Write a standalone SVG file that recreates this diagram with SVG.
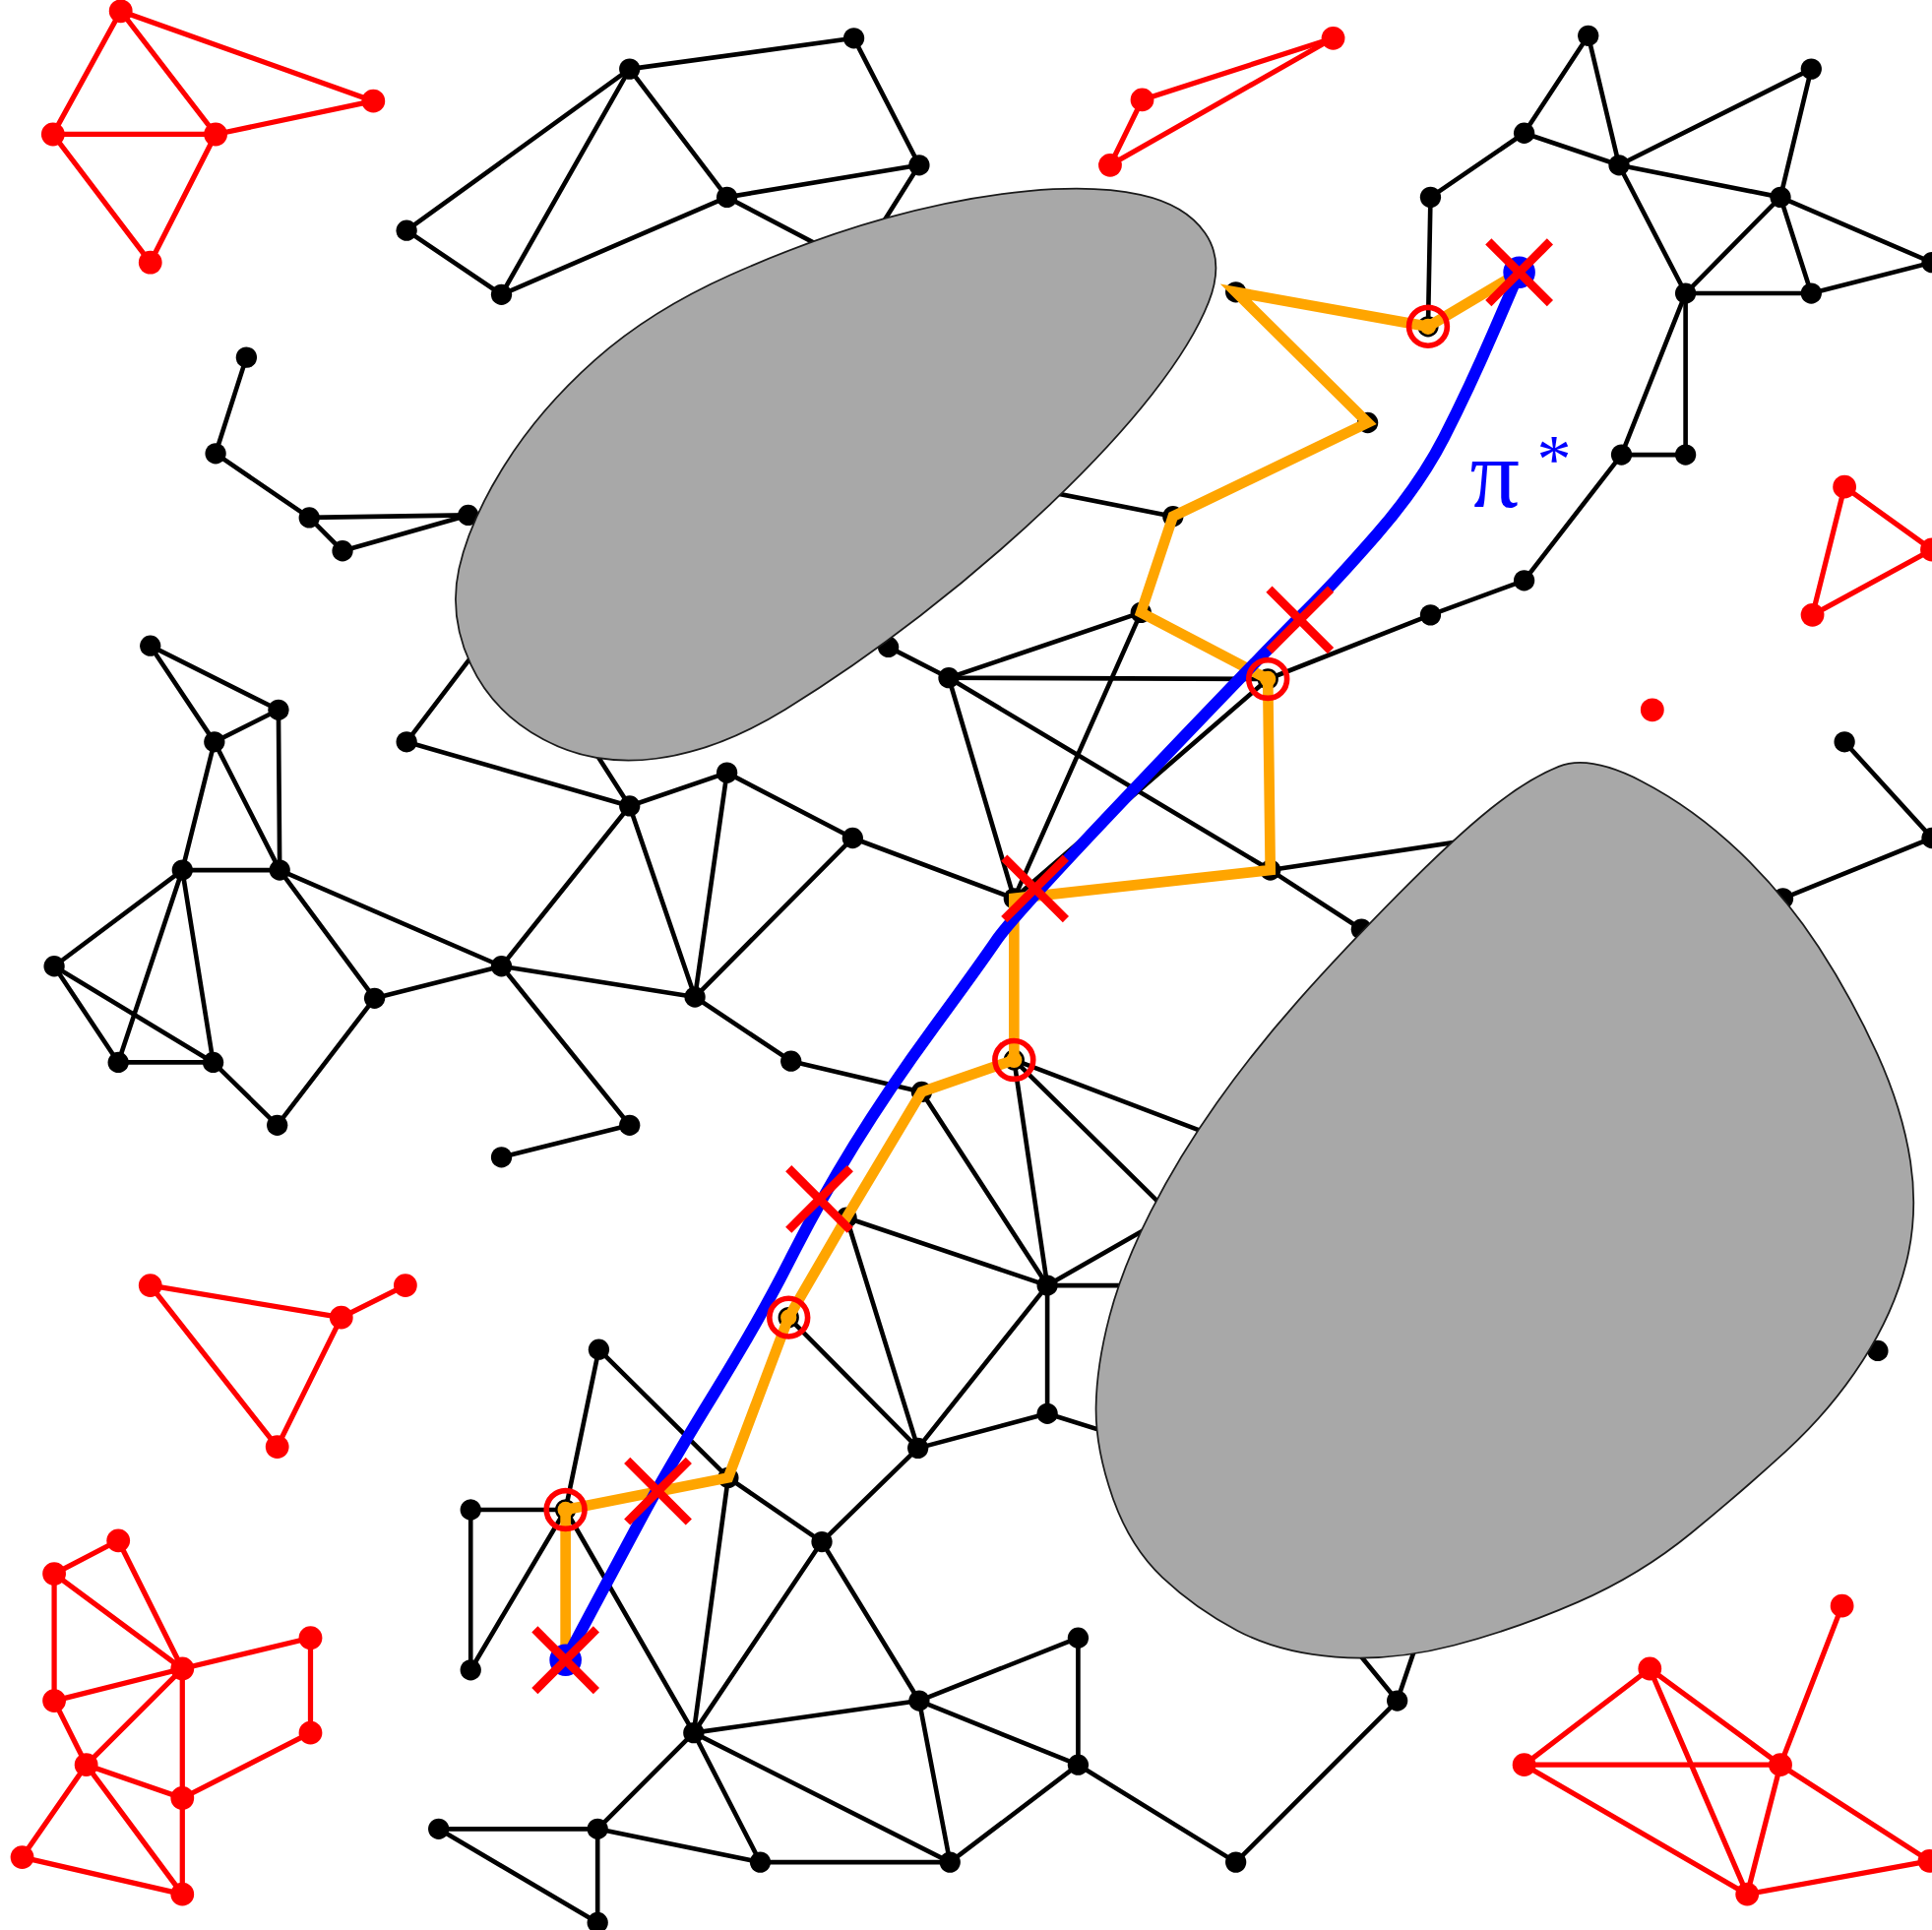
<svg xmlns="http://www.w3.org/2000/svg" xmlns:xlink="http://www.w3.org/1999/xlink" width="1963" height="1961" viewBox="0 0 1963 1961">
<style>
.e line{stroke:#000;stroke-width:3.7;stroke-linecap:round}
.re line{stroke:#f00;stroke-width:4.2;stroke-linecap:round}
.n{fill:#000}
.rn{fill:#f00}
.obs{fill:#a8a8a8;stroke:#1a1a1a;stroke-width:1.4}
.ring{fill:none;stroke:#f00;stroke-width:4.5}
.od{fill:#ffa500}
.lbl{font-family:"Liberation Serif","DejaVu Serif",serif;fill:#0000ff}
</style>
<defs>
<g id="xm"><line x1="-25" y1="-25" x2="25" y2="25" stroke="#f00" stroke-width="7"/><line x1="-25" y1="25" x2="25" y2="-25" stroke="#f00" stroke-width="7"/></g>
</defs>
<rect width="1963" height="1961" fill="#fff"/>
<g transform="scale(1.25191,1.25223)">
<g id="connectors">
<g class="e">
<line x1="511" y1="56" x2="693" y2="31"/><line x1="693" y1="31" x2="746" y2="134"/><line x1="746" y1="134" x2="590" y2="160"/><line x1="590" y1="160" x2="511" y2="56"/><line x1="511" y1="56" x2="330" y2="187"/><line x1="511" y1="56" x2="407" y2="239"/><line x1="330" y1="187" x2="407" y2="239"/><line x1="407" y1="239" x2="590" y2="160"/><line x1="590" y1="160" x2="695" y2="215"/><line x1="746" y1="134" x2="695" y2="215"/>
<line x1="200" y1="290" x2="175" y2="368"/><line x1="175" y1="368" x2="251" y2="420"/><line x1="251" y1="420" x2="278" y2="447"/><line x1="251" y1="420" x2="380" y2="418"/><line x1="278" y1="447" x2="380" y2="418"/>
<line x1="122" y1="524" x2="226" y2="576"/><line x1="122" y1="524" x2="174" y2="602"/><line x1="226" y1="576" x2="174" y2="602"/><line x1="226" y1="576" x2="227" y2="706"/><line x1="174" y1="602" x2="227" y2="706"/><line x1="174" y1="602" x2="148" y2="706"/><line x1="227" y1="706" x2="148" y2="706"/><line x1="148" y1="706" x2="44" y2="784"/><line x1="148" y1="706" x2="96" y2="862"/><line x1="148" y1="706" x2="173" y2="862"/><line x1="44" y1="784" x2="96" y2="862"/><line x1="44" y1="784" x2="173" y2="862"/><line x1="96" y1="862" x2="173" y2="862"/><line x1="173" y1="862" x2="225" y2="913"/><line x1="225" y1="913" x2="304" y2="810"/><line x1="227" y1="706" x2="304" y2="810"/><line x1="227" y1="706" x2="407" y2="784"/><line x1="304" y1="810" x2="407" y2="784"/>
<line x1="407" y1="784" x2="511" y2="654"/><line x1="407" y1="784" x2="564" y2="809"/><line x1="407" y1="784" x2="511" y2="913"/><line x1="511" y1="913" x2="407" y2="939"/><line x1="330" y1="602" x2="511" y2="654"/><line x1="330" y1="602" x2="400" y2="510"/><line x1="511" y1="654" x2="470" y2="590"/><line x1="511" y1="654" x2="590" y2="627"/><line x1="511" y1="654" x2="564" y2="809"/><line x1="590" y1="627" x2="692" y2="680"/><line x1="590" y1="627" x2="564" y2="809"/><line x1="692" y1="680" x2="564" y2="809"/><line x1="692" y1="680" x2="823" y2="729"/><line x1="564" y1="809" x2="642" y2="861"/><line x1="642" y1="861" x2="748" y2="886"/>
<line x1="721" y1="525" x2="770" y2="550"/><line x1="770" y1="550" x2="926" y2="497"/><line x1="770" y1="550" x2="1029" y2="551"/><line x1="770" y1="550" x2="823" y2="729"/><line x1="770" y1="550" x2="1031" y2="706"/><line x1="926" y1="497" x2="823" y2="729"/><line x1="1029" y1="551" x2="823" y2="729"/><line x1="1029" y1="551" x2="1161" y2="499"/><line x1="1031" y1="706" x2="1105" y2="754"/><line x1="1031" y1="706" x2="1230" y2="676"/><line x1="952" y1="419" x2="820" y2="393"/>
<line x1="823" y1="860" x2="850" y2="1043"/><line x1="823" y1="860" x2="1010" y2="931"/><line x1="823" y1="860" x2="960" y2="995"/><line x1="748" y1="886" x2="850" y2="1043"/><line x1="687" y1="988" x2="850" y2="1043"/><line x1="850" y1="1043" x2="960" y2="980"/><line x1="850" y1="1043" x2="950" y2="1043"/><line x1="850" y1="1043" x2="850" y2="1147"/><line x1="850" y1="1043" x2="745" y2="1175"/><line x1="687" y1="988" x2="745" y2="1175"/><line x1="640" y1="1069" x2="745" y2="1175"/><line x1="850" y1="1147" x2="745" y2="1175"/><line x1="850" y1="1147" x2="930" y2="1172"/>
<line x1="591" y1="1199" x2="667" y2="1251"/><line x1="591" y1="1199" x2="563" y2="1406"/><line x1="591" y1="1199" x2="486" y2="1095"/><line x1="486" y1="1095" x2="459" y2="1225"/><line x1="459" y1="1225" x2="382" y2="1225"/><line x1="382" y1="1225" x2="382" y2="1355"/><line x1="382" y1="1355" x2="459" y2="1225"/><line x1="459" y1="1225" x2="563" y2="1406"/><line x1="745" y1="1175" x2="667" y2="1251"/><line x1="667" y1="1251" x2="563" y2="1406"/><line x1="667" y1="1251" x2="746" y2="1380"/><line x1="563" y1="1406" x2="746" y2="1380"/><line x1="746" y1="1380" x2="875" y2="1329"/><line x1="746" y1="1380" x2="875" y2="1432"/><line x1="875" y1="1329" x2="875" y2="1432"/><line x1="563" y1="1406" x2="771" y2="1511"/><line x1="563" y1="1406" x2="617" y2="1511"/><line x1="746" y1="1380" x2="771" y2="1511"/><line x1="875" y1="1432" x2="771" y2="1511"/><line x1="617" y1="1511" x2="771" y2="1511"/><line x1="563" y1="1406" x2="485" y2="1484"/><line x1="485" y1="1484" x2="617" y2="1511"/><line x1="485" y1="1484" x2="356" y2="1484"/><line x1="356" y1="1484" x2="485" y2="1560"/><line x1="485" y1="1484" x2="485" y2="1560"/><line x1="875" y1="1432" x2="1003" y2="1511"/><line x1="1003" y1="1511" x2="1134" y2="1380"/><line x1="1134" y1="1380" x2="1085" y2="1320"/><line x1="1134" y1="1380" x2="1155" y2="1318"/>
<line x1="1161" y1="160" x2="1237" y2="108"/><line x1="1237" y1="108" x2="1289" y2="29"/><line x1="1289" y1="29" x2="1314" y2="134"/><line x1="1237" y1="108" x2="1314" y2="134"/><line x1="1314" y1="134" x2="1470" y2="56"/><line x1="1314" y1="134" x2="1445" y2="160"/><line x1="1470" y1="56" x2="1445" y2="160"/><line x1="1314" y1="134" x2="1368" y2="238"/><line x1="1445" y1="160" x2="1368" y2="238"/><line x1="1445" y1="160" x2="1470" y2="238"/><line x1="1445" y1="160" x2="1568" y2="213"/><line x1="1368" y1="238" x2="1470" y2="238"/><line x1="1470" y1="238" x2="1568" y2="213"/><line x1="1368" y1="238" x2="1316" y2="369"/><line x1="1368" y1="238" x2="1368" y2="369"/><line x1="1316" y1="369" x2="1368" y2="369"/><line x1="1161" y1="160" x2="1159" y2="265"/><line x1="1316" y1="369" x2="1237" y2="471"/><line x1="1237" y1="471" x2="1161" y2="499"/><line x1="1497" y1="602" x2="1568" y2="680"/><line x1="1568" y1="680" x2="1447" y2="729"/>
</g>
<g class="re">
<line x1="98" y1="9" x2="43" y2="109"/><line x1="98" y1="9" x2="175" y2="109"/><line x1="98" y1="9" x2="303" y2="82"/><line x1="43" y1="109" x2="175" y2="109"/><line x1="175" y1="109" x2="303" y2="82"/><line x1="43" y1="109" x2="122" y2="213"/><line x1="175" y1="109" x2="122" y2="213"/>
<line x1="1082" y1="31" x2="927" y2="81"/><line x1="1082" y1="31" x2="901" y2="134"/><line x1="927" y1="81" x2="901" y2="134"/>
<line x1="1497" y1="395" x2="1471" y2="499"/><line x1="1471" y1="499" x2="1568" y2="446"/><line x1="1497" y1="395" x2="1568" y2="446"/>
<line x1="122" y1="1043" x2="277" y2="1069"/><line x1="122" y1="1043" x2="225" y2="1174"/><line x1="277" y1="1069" x2="329" y2="1043"/><line x1="277" y1="1069" x2="225" y2="1174"/>
<line x1="96" y1="1250" x2="44" y2="1277"/><line x1="96" y1="1250" x2="148" y2="1354"/><line x1="44" y1="1277" x2="148" y2="1354"/><line x1="44" y1="1277" x2="44" y2="1380"/><line x1="148" y1="1354" x2="252" y2="1329"/><line x1="148" y1="1354" x2="44" y2="1380"/><line x1="148" y1="1354" x2="70" y2="1432"/><line x1="148" y1="1354" x2="148" y2="1459"/><line x1="252" y1="1329" x2="252" y2="1406"/><line x1="252" y1="1406" x2="148" y2="1459"/><line x1="44" y1="1380" x2="70" y2="1432"/><line x1="70" y1="1432" x2="148" y2="1459"/><line x1="70" y1="1432" x2="18" y2="1507"/><line x1="70" y1="1432" x2="148" y2="1537"/><line x1="148" y1="1459" x2="148" y2="1537"/><line x1="18" y1="1507" x2="148" y2="1537"/>
<line x1="1339" y1="1354" x2="1237" y2="1432"/><line x1="1339" y1="1354" x2="1445" y2="1432"/><line x1="1339" y1="1354" x2="1418" y2="1537"/><line x1="1237" y1="1432" x2="1445" y2="1432"/><line x1="1237" y1="1432" x2="1418" y2="1537"/><line x1="1445" y1="1432" x2="1495" y2="1303"/><line x1="1445" y1="1432" x2="1418" y2="1537"/><line x1="1445" y1="1432" x2="1566" y2="1510"/><line x1="1418" y1="1537" x2="1566" y2="1510"/>
</g>
</g>
<g id="nodes">
<g id="a1"><circle class="n" cx="511" cy="56" r="8.5"/></g><g id="a2"><circle class="n" cx="693" cy="31" r="8.5"/></g><g id="a3"><circle class="n" cx="746" cy="134" r="8.5"/></g><g id="a4"><circle class="n" cx="590" cy="160" r="8.5"/></g><g id="a5"><circle class="n" cx="330" cy="187" r="8.5"/></g><g id="a6"><circle class="n" cx="407" cy="239" r="8.5"/></g>
<g id="b1"><circle class="n" cx="200" cy="290" r="8.5"/></g><g id="b2"><circle class="n" cx="175" cy="368" r="8.5"/></g><g id="b3"><circle class="n" cx="251" cy="420" r="8.5"/></g><g id="b4"><circle class="n" cx="278" cy="447" r="8.5"/></g><g id="b5"><circle class="n" cx="380" cy="418" r="8.5"/></g>
<g id="c1"><circle class="n" cx="122" cy="524" r="8.5"/></g><g id="c2"><circle class="n" cx="226" cy="576" r="8.5"/></g><g id="c3"><circle class="n" cx="174" cy="602" r="8.5"/></g><g id="c4"><circle class="n" cx="227" cy="706" r="8.5"/></g><g id="c5"><circle class="n" cx="148" cy="706" r="8.5"/></g><g id="c6"><circle class="n" cx="44" cy="784" r="8.5"/></g><g id="c7"><circle class="n" cx="96" cy="862" r="8.5"/></g><g id="c8"><circle class="n" cx="173" cy="862" r="8.5"/></g><g id="c9"><circle class="n" cx="225" cy="913" r="8.5"/></g><g id="c10"><circle class="n" cx="304" cy="810" r="8.5"/></g><g id="c11"><circle class="n" cx="407" cy="784" r="8.5"/></g><g id="c12"><circle class="n" cx="330" cy="602" r="8.5"/></g>
<g id="d1"><circle class="n" cx="511" cy="654" r="8.5"/></g><g id="d2"><circle class="n" cx="590" cy="627" r="8.5"/></g><g id="d3"><circle class="n" cx="692" cy="680" r="8.5"/></g><g id="d5"><circle class="n" cx="564" cy="809" r="8.5"/></g><g id="d6"><circle class="n" cx="511" cy="913" r="8.5"/></g><g id="d7"><circle class="n" cx="407" cy="939" r="8.5"/></g><g id="d8"><circle class="n" cx="642" cy="861" r="8.5"/></g>
<g id="m1"><circle class="n" cx="823" cy="729" r="8.5"/></g><g id="m2"><circle class="n" cx="770" cy="550" r="8.5"/></g><g id="m3"><circle class="n" cx="721" cy="525" r="8.5"/></g><g id="m4"><circle class="n" cx="926" cy="497" r="8.5"/></g><g id="m5"><circle class="n" cx="1029" cy="551" r="8.5"/></g><g id="m6"><circle class="n" cx="1031" cy="706" r="8.5"/></g><g id="m7"><circle class="n" cx="823" cy="860" r="8.5"/></g><g id="m8"><circle class="n" cx="748" cy="886" r="8.5"/></g><g id="m9"><circle class="n" cx="687" cy="988" r="8.5"/></g><g id="m10"><circle class="n" cx="850" cy="1043" r="8.5"/></g><g id="m11"><circle class="n" cx="640" cy="1069" r="8.5"/></g><g id="m12"><circle class="n" cx="745" cy="1175" r="8.5"/></g><g id="m13"><circle class="n" cx="850" cy="1147" r="8.5"/></g><g id="m14"><circle class="n" cx="591" cy="1199" r="8.5"/></g><g id="m15"><circle class="n" cx="459" cy="1225" r="8.5"/></g><g id="m16"><circle class="n" cx="382" cy="1225" r="8.5"/></g><g id="m17"><circle class="n" cx="382" cy="1355" r="8.5"/></g><g id="m18"><circle class="n" cx="459" cy="1347" r="8.5"/></g><g id="m19"><circle class="n" cx="486" cy="1095" r="8.5"/></g><g id="m20"><circle class="n" cx="667" cy="1251" r="8.5"/></g><g id="m21"><circle class="n" cx="563" cy="1406" r="8.5"/></g><g id="m22"><circle class="n" cx="746" cy="1380" r="8.5"/></g><g id="m23"><circle class="n" cx="875" cy="1329" r="8.5"/></g><g id="m24"><circle class="n" cx="875" cy="1432" r="8.5"/></g><g id="m25"><circle class="n" cx="771" cy="1511" r="8.5"/></g><g id="m26"><circle class="n" cx="617" cy="1511" r="8.5"/></g><g id="m27"><circle class="n" cx="485" cy="1484" r="8.5"/></g><g id="m28"><circle class="n" cx="356" cy="1484" r="8.5"/></g><g id="m29"><circle class="n" cx="485" cy="1560" r="8.5"/></g><g id="m30"><circle class="n" cx="1003" cy="1511" r="8.5"/></g><g id="m31"><circle class="n" cx="1134" cy="1380" r="8.5"/></g>
<g id="e1"><circle class="n" cx="1105" cy="754" r="8.5"/></g><g id="e2"><circle class="n" cx="1447" cy="729" r="8.5"/></g><g id="e3"><circle class="n" cx="1524" cy="1096" r="8.5"/></g>
<g id="o1"><circle class="n" cx="952" cy="419" r="8.5"/></g><g id="o2"><circle class="n" cx="1110" cy="343" r="8.5"/></g><g id="o3"><circle class="n" cx="1003" cy="237" r="8.5"/></g><g id="o4"><circle class="n" cx="1159" cy="265" r="8.5"/></g>
<g id="t1"><circle class="n" cx="1161" cy="160" r="8.5"/></g><g id="t2"><circle class="n" cx="1237" cy="108" r="8.5"/></g><g id="t3"><circle class="n" cx="1289" cy="29" r="8.5"/></g><g id="t4"><circle class="n" cx="1314" cy="134" r="8.5"/></g><g id="t5"><circle class="n" cx="1470" cy="56" r="8.5"/></g><g id="t6"><circle class="n" cx="1445" cy="160" r="8.5"/></g><g id="t7"><circle class="n" cx="1368" cy="238" r="8.5"/></g><g id="t8"><circle class="n" cx="1470" cy="238" r="8.5"/></g><g id="t9"><circle class="n" cx="1568" cy="213" r="8.5"/></g><g id="t10"><circle class="n" cx="1316" cy="369" r="8.5"/></g><g id="t11"><circle class="n" cx="1368" cy="369" r="8.5"/></g><g id="t12"><circle class="n" cx="1237" cy="471" r="8.5"/></g><g id="t13"><circle class="n" cx="1161" cy="499" r="8.5"/></g>
<g id="k1"><circle class="n" cx="1497" cy="602" r="8.5"/></g><g id="k2"><circle class="n" cx="1568" cy="680" r="8.5"/></g>
<g id="r1"><circle class="rn" cx="98" cy="9" r="9.5"/></g><g id="r2"><circle class="rn" cx="43" cy="109" r="9.5"/></g><g id="r3"><circle class="rn" cx="175" cy="109" r="9.5"/></g><g id="r4"><circle class="rn" cx="122" cy="213" r="9.5"/></g><g id="r5"><circle class="rn" cx="303" cy="82" r="9.5"/></g>
<g id="s1"><circle class="rn" cx="1082" cy="31" r="9.5"/></g><g id="s2"><circle class="rn" cx="927" cy="81" r="9.5"/></g><g id="s3"><circle class="rn" cx="901" cy="134" r="9.5"/></g>
<g id="u1"><circle class="rn" cx="1497" cy="395" r="9.5"/></g><g id="u2"><circle class="rn" cx="1471" cy="499" r="9.5"/></g><g id="u3"><circle class="rn" cx="1568" cy="446" r="9.5"/></g><g id="u4"><circle class="rn" cx="1341" cy="576" r="9.5"/></g>
<g id="v1"><circle class="rn" cx="122" cy="1043" r="9.5"/></g><g id="v2"><circle class="rn" cx="329" cy="1043" r="9.5"/></g><g id="v3"><circle class="rn" cx="277" cy="1069" r="9.5"/></g><g id="v4"><circle class="rn" cx="225" cy="1174" r="9.5"/></g>
<g id="w1"><circle class="rn" cx="96" cy="1250" r="9.5"/></g><g id="w2"><circle class="rn" cx="44" cy="1277" r="9.5"/></g><g id="w3"><circle class="rn" cx="148" cy="1354" r="9.5"/></g><g id="w4"><circle class="rn" cx="252" cy="1329" r="9.5"/></g><g id="w5"><circle class="rn" cx="44" cy="1380" r="9.5"/></g><g id="w6"><circle class="rn" cx="252" cy="1406" r="9.5"/></g><g id="w7"><circle class="rn" cx="70" cy="1432" r="9.5"/></g><g id="w8"><circle class="rn" cx="148" cy="1459" r="9.5"/></g><g id="w9"><circle class="rn" cx="18" cy="1507" r="9.5"/></g><g id="w10"><circle class="rn" cx="148" cy="1537" r="9.5"/></g>
<g id="x1"><circle class="rn" cx="1339" cy="1354" r="9.5"/></g><g id="x2"><circle class="rn" cx="1237" cy="1432" r="9.5"/></g><g id="x3"><circle class="rn" cx="1445" cy="1432" r="9.5"/></g><g id="x4"><circle class="rn" cx="1495" cy="1303" r="9.5"/></g><g id="x5"><circle class="rn" cx="1418" cy="1537" r="9.5"/></g><g id="x6"><circle class="rn" cx="1566" cy="1510" r="9.5"/></g>
</g>
<g id="obstacles">
<path class="obs" d="M834.5,155 Q889,150 925.5,158 Q962,166 978,189 Q994,212 981,245 Q968,278 935,320 Q902,362 852,409.5 Q802,457 747,499.5 Q692,542 637.5,575.5 Q583,609 532.5,615.5 Q482,622 441,600 Q400,578 382,539 Q364,500 372.5,461.5 Q381,423 409.5,377.5 Q438,332 483,292 Q528,252 593,223 Q658,194 719,177 Q780,160 834.5,155 Z"/>
<path class="obs" d="M1265,622 Q1290,612 1332.5,634 Q1375,656 1412,691.5 Q1449,727 1476,768.5 Q1503,810 1523.5,855 Q1544,900 1550.5,942.5 Q1557,985 1547,1025 Q1537,1065 1511.5,1104.5 Q1486,1144 1450,1177 Q1414,1210 1372.5,1244 Q1331,1278 1280.5,1300 Q1230,1322 1180,1335 Q1130,1348 1084,1344.5 Q1038,1341 1004,1323 Q970,1305 943.5,1280 Q917,1255 903,1215 Q889,1175 889.5,1141.5 Q890,1108 900.5,1068 Q911,1028 934,983 Q957,938 987.5,895 Q1018,852 1053.5,812 Q1089,772 1134.5,726 Q1180,680 1210,656 Q1240,632 1265,622 Z"/>
</g>
<g id="orange-path">
<polyline points="459,1347 459,1225 591,1199 640,1069 687,988 748,886 823,860 823,729 1031,706 1029,551 926,497 952,419 1110,343 1003,237 1159,265 1233,221" fill="none" stroke="#ffa500" stroke-width="8.5"/>
<circle class="od" cx="1159" cy="265" r="6.5"/><circle class="od" cx="1029" cy="551" r="6.5"/><circle class="od" cx="823" cy="860" r="6.5"/><circle class="od" cx="640" cy="1069" r="6.5"/><circle class="od" cx="459" cy="1225" r="6.5"/>
</g>
<g id="optimal-path">
<path d="M459,1347 L479.5,1308.5 Q500,1270 521.5,1230 Q543,1190 580,1130 Q617,1070 641,1022.5 Q665,975 693,929.5 Q721,884 758,833.5 Q795,783 809,762.5 Q823,742 930.5,629.5 Q1038,517 1060,495.5 Q1082,474 1117,434 Q1152,394 1172,355 Q1192,316 1212.5,268.5 L1233,221" fill="none" stroke="#0000ff" stroke-width="9.5"/>
<circle cx="1233" cy="221" r="13" fill="#0000ff"/><circle cx="459" cy="1347" r="13" fill="#0000ff"/>
</g>
<g id="marks">
<circle class="ring" cx="1159" cy="265" r="15.5"/><circle class="ring" cx="1029" cy="551" r="15.5"/><circle class="ring" cx="823" cy="860" r="15.5"/><circle class="ring" cx="640" cy="1069" r="15.5"/><circle class="ring" cx="459" cy="1225" r="15.5"/>
<use xlink:href="#xm" x="1233" y="221"/><use xlink:href="#xm" x="1055" y="503"/><use xlink:href="#xm" x="840" y="721"/><use xlink:href="#xm" x="665" y="973"/><use xlink:href="#xm" x="534" y="1210"/><use xlink:href="#xm" x="459" y="1347"/>
</g>
<text class="lbl" x="1193" y="411" font-size="80">π<tspan dx="14" dy="-20" font-size="56">*</tspan></text>
</g>
</svg>
